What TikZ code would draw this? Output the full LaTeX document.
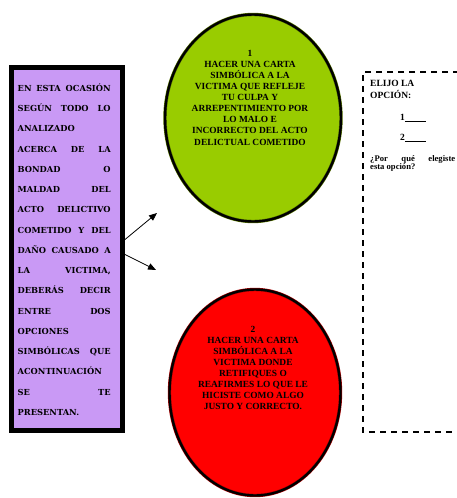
\documentclass[tikz,border=0pt]{standalone}
\usepackage{fontspec}
\setmainfont{Liberation Serif}
\newfontfamily\boxfont{DejaVu Serif}
\usetikzlibrary{shapes.geometric,arrows.meta,calc}
\definecolor{lila}{RGB}{201,153,245}
\definecolor{verde}{RGB}{153,204,0}
\definecolor{rojo}{RGB}{255,0,0}
\tikzset{
  purplebox/.style={draw=black, line width=5pt, fill=lila, rectangle, inner sep=0pt},
  lefttext/.style={anchor=north west, inner sep=0pt, text width=93pt,
    font=\boxfont\bfseries\fontsize{8.3}{20.25}\selectfont},
  optellipse/.style={ellipse, inner sep=0pt, line width=0.5pt, double=black, double distance=2.4pt},
  elltext/.style={anchor=north, inner sep=0pt, align=center,
    font=\bfseries\fontsize{9.4}{11.1}\selectfont},
  dashline/.style={draw=black, line width=1.8pt, dash pattern=on 6pt off 5pt},
  rtext/.style={anchor=base west, inner sep=0pt, font=\bfseries\fontsize{9.5}{11}\selectfont},
  rsmall/.style={anchor=base west, inner sep=0pt, font=\bfseries\fontsize{8.6}{9}\selectfont},
  pointer/.style={line width=0.8pt, -{Triangle[length=8pt,width=6.5pt]}}
}
\begin{document}
\begin{tikzpicture}[x=1pt,y=-1pt]
\useasboundingbox (0,0) rectangle (457,498);
% left purple box
\node[purplebox, minimum width=111pt, minimum height=363pt] (lbox) at (67,249) {};
\node[lefttext] (ltext) at (17.5,83.5) {EN\hfill ESTA\hfill OCASIÓN\\
SEGÚN\hfill TODO\hfill LO\\
ANALIZADO\\
ACERCA\hfill DE\hfill LA\\
BONDAD\hfill O\\
MALDAD\hfill DEL\\
ACTO\hfill DELICTIVO\\
COMETIDO\hfill Y\hfill DEL\\
DAÑO\hfill CAUSADO\hfill A\\
LA\hfill VICTIMA,\\
DEBERÁS\hfill DECIR\\
ENTRE\hfill DOS\\
OPCIONES\\
SIMBÓLICAS\hfill QUE\\
ACONTINUACIÓN\\
SE\hfill TE\\
PRESENTAN.};
% option ellipses
\node[optellipse, draw=verde!60!black, fill=verde, minimum width=176pt, minimum height=207pt] (opt1) at (253,118) {};
\node[elltext] (opt1text) at (250,49.8) {1\\HACER UNA CARTA\\SIMBÓLICA A LA\\VICTIMA QUE REFLEJE\\TU CULPA Y\\ARREPENTIMIENTO POR\\LO MALO E\\INCORRECTO DEL ACTO\\DELICTUAL COMETIDO};
\node[optellipse, draw=rojo!70!black, fill=rojo, minimum width=171pt, minimum height=206pt] (opt2) at (255,392.5) {};
\node[elltext] (opt2text) at (253,325.8) {2\\HACER UNA CARTA\\SIMBÓLICA A LA\\VICTIMA DONDE\\RETIFIQUES O\\REAFIRMES LO QUE LE\\HICISTE COMO ALGO\\JUSTO Y CORRECTO.};
% arrows
\coordinate (tip1) at (157,213);
\coordinate (tip2) at (156,270);
\draw[pointer] ($(lbox.east)+(0,-9.5)$) -- (tip1);
\draw[pointer] ($(lbox.east)+(0,5.5)$) -- (tip2);
% dashed answer box (open on the right, cut by the page edge)
\coordinate (boxtr) at (470,72);
\coordinate (boxtl) at (363,72);
\coordinate (boxbl) at (363,432);
\coordinate (boxbr) at (470,432);
\draw[dashline] (boxtr) -- (boxtl) -- (boxbl) -- (boxbr);
\node[rtext] (elijo) at (370,86) {ELIJO LA};
\node[rtext] (opcion) at (370,98) {OPCIÓN:};
\node[rtext] (uno) at (400,120) {1\rule[-1.2pt]{21pt}{0.5pt}};
\node[rtext] (dos) at (400,140) {2\rule[-1.2pt]{21pt}{0.5pt}};
\node[rsmall] (porque) at (370,161) {\hbox to 85pt{¿Por\hfill qué\hfill elegiste}};
\node[rsmall] (esta) at (370,169.5) {esta opción?};
\end{tikzpicture}
\end{document}
